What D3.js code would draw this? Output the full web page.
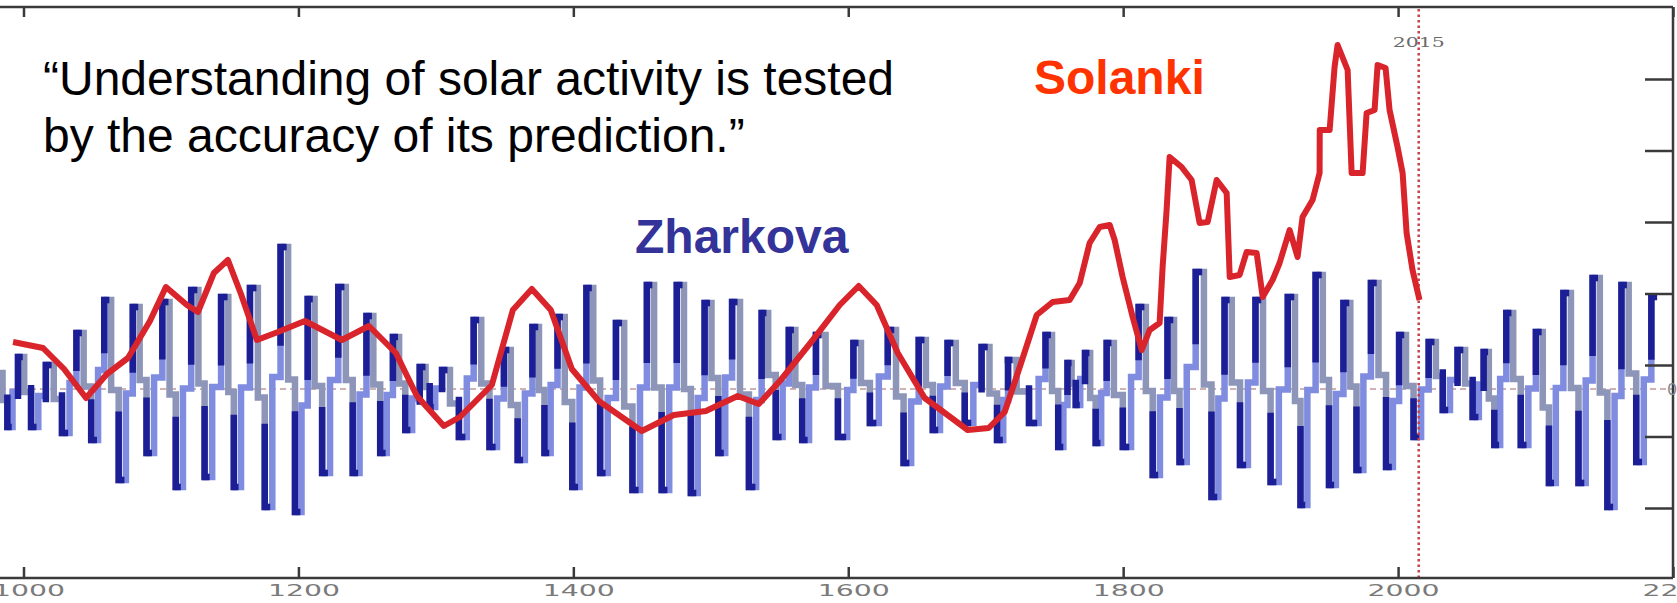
<!DOCTYPE html>
<html>
<head>
<meta charset="utf-8">
<script src="https://cdn.jsdelivr.net/npm/d3@7/dist/d3.min.js"></script>
<style>
  body { margin: 0; background: #fff; }
  svg { display: block; }
</style>
</head>
<body>
<div id="chart"></div>
<script>
const width = 1677
const height = 603

// x axis years and right axis ticks
const axisYears = [1000, 1200, 1400, 1600, 1800, 2000, 2200]
const rightTicks = [0, 10, 20, 30, 40, 50, 60]
const markYear = 2015

// Zharkova summary curve: alternating maxima / minima
const zharkovaYears = [983, 990, 998, 1008, 1019, 1031, 1041, 1052, 1061, 1072,
  1082, 1092, 1104, 1113, 1125, 1134, 1147, 1155, 1168, 1178,
  1190, 1200, 1209, 1220, 1232, 1242, 1252, 1262, 1271, 1280,
  1291, 1297, 1307, 1320, 1330, 1342, 1352, 1362, 1373, 1381,
  1391, 1402, 1412, 1422, 1434, 1446, 1456, 1467, 1478, 1488,
  1498, 1508, 1518, 1531, 1539, 1550, 1559, 1569, 1579, 1597,
  1606, 1619, 1632, 1643, 1654, 1664, 1675, 1688, 1700, 1711,
  1718, 1736, 1746, 1755, 1761, 1767, 1774, 1782, 1790, 1803,
  1814, 1824, 1835, 1843, 1856, 1867, 1876, 1888, 1899, 1910,
  1923, 1931, 1943, 1952, 1963, 1972, 1983, 1994, 2003, 2014,
  2025, 2035, 2046, 2057, 2064, 2072, 2081, 2092, 2103, 2112,
  2123, 2134, 2144, 2155, 2165, 2176, 2187]
const zharkovaValues = [0.16, -0.38, 0.32, -0.38, 0.24, -0.44, 0.56, -0.51, 0.89, -0.91,
  0.82, -0.64, 0.87, -0.98, 0.99, -0.88, 0.92, -0.98, 1.01, -1.18,
  1.42, -1.23, 0.90, -0.84, 1.02, -0.84, 0.73, -0.64, 0.52, -0.41,
  0.22, -0.18, 0.19, -0.48, 0.69, -0.58, 0.39, -0.71, 0.62, -0.64,
  0.72, -0.98, 1.01, -0.84, 0.66, -1.01, 1.04, -1.01, 1.04, -1.04,
  0.86, -0.64, 0.87, -0.98, 0.76, -0.48, 0.59, -0.51, 0.54, -0.48,
  0.46, -0.34, 0.59, -0.74, 0.49, -0.41, 0.46, -0.34, 0.42, -0.51,
  0.29, -0.34, 0.54, -0.58, 0.26, -0.16, 0.36, -0.54, 0.46, -0.58,
  0.82, -0.86, 0.69, -0.73, 1.17, -1.08, 0.89, -0.76, 0.89, -0.93,
  0.92, -1.16, 1.14, -0.96, 0.86, -0.81, 1.06, -0.78, 0.54, -0.48,
  0.47, -0.21, 0.39, -0.28, 0.37, -0.56, 0.76, -0.56, 0.57, -0.94,
  0.96, -0.94, 1.11, -1.18, 1.04, -0.73, 0.92]

// Solanki reconstruction
const solankiYears = [992.4, 1014.2, 1029.5, 1045.5, 1060.7, 1076.0, 1092.0, 1103.6, 1118.9, 1126.9,
  1138.5, 1148.7, 1158.2, 1169.8, 1185.1, 1204.7, 1231.6, 1251.3, 1270.9, 1286.2,
  1305.8, 1317.5, 1340.7, 1356.0, 1369.8, 1383.6, 1398.9, 1418.5, 1449.8, 1473.1,
  1496.4, 1519.6, 1534.9, 1550.9, 1574.2, 1593.8, 1607.6, 1620.7, 1636.0, 1655.6,
  1686.9, 1702.2, 1713.8, 1725.5, 1737.1, 1748.7, 1761.1, 1768.4, 1775.6, 1782.9,
  1790.2, 1793.8, 1799.6, 1806.9, 1813.5, 1819.3, 1826.5, 1828.7, 1831.6, 1833.8,
  1842.5, 1849.8, 1855.6, 1861.5, 1868.0, 1875.3, 1877.5, 1884.7, 1889.8, 1897.1,
  1901.5, 1908.7, 1913.8, 1921.1, 1926.9, 1930.5, 1937.8, 1942.9, 1943.0, 1950.2,
  1953.8, 1956.0, 1963.3, 1966.2, 1974.2, 1977.1, 1982.9, 1985.1, 1990.9, 1993.8,
  1999.6, 2003.3, 2006.2, 2010.5, 2015.6]
const solankiValues = [0.47, 0.41, 0.20, -0.09, 0.15, 0.31, 0.68, 1.02, 0.84, 0.77,
  1.16, 1.29, 0.95, 0.49, 0.57, 0.68, 0.49, 0.63, 0.36, -0.07,
  -0.37, -0.28, 0.04, 0.79, 1.00, 0.79, 0.20, -0.12, -0.42, -0.26,
  -0.22, -0.07, -0.15, 0.09, 0.49, 0.84, 1.03, 0.84, 0.36, -0.09,
  -0.41, -0.39, -0.23, 0.25, 0.74, 0.87, 0.89, 1.06, 1.46, 1.62,
  1.64, 1.49, 1.12, 0.72, 0.39, 0.59, 0.66, 1.22, 1.79, 2.32,
  2.22, 2.09, 1.66, 1.67, 2.09, 1.96, 1.12, 1.14, 1.37, 1.36,
  0.92, 1.09, 1.26, 1.59, 1.32, 1.72, 1.89, 2.16, 2.59, 2.59,
  3.22, 3.44, 3.19, 2.16, 2.16, 2.76, 2.79, 3.24, 3.21, 2.79,
  2.42, 2.16, 1.56, 1.19, 0.89]

const quoteLines = ["\u201CUnderstanding of solar activity is tested", "by the accuracy of its prediction.\u201D"]

const yTop = 7, yBottom = 578, xRight = 1673

const svg = d3.select('#chart')
  .append('svg')
  .attr('width', width)
  .attr('height', height)

const x = d3.scaleLinear().domain([1000, 2200]).range([23.5, xRight])
const y = d3.scaleLinear().domain([-1, 1]).range([489, 289])
const yRight = d3.scaleLinear().domain([0, 60]).range([508, 79])

// zero line
svg.append('line')
  .attr('x1', 0).attr('x2', xRight)
  .attr('y1', y(0)).attr('y2', y(0))
  .attr('stroke', '#a06868')
  .attr('stroke-width', 1.2)
  .attr('stroke-dasharray', '6,4')

// Zharkova curve, drawn as a two-step staircase between extremes
const zh = zharkovaYears.map((d, i) => ({ x: x(d), y: y(zharkovaValues[i]) }))
const halves = d3.range(zh.length - 1).map(i => {
  const a = zh[i], b = zh[i + 1]
  const dx = b.x - a.x, dy = b.y - a.y
  return { a, b, dx, dy, rising: dy < 0 }
})

svg.append('g')
  .selectAll('path')
  .data(halves)
  .join('path')
  .attr('d', h => `M${h.a.x - h.dx / 4},${h.a.y}` +
    `H${h.a.x + h.dx / 4}V${h.a.y + h.dy / 2}` +
    `H${h.a.x + 3 * h.dx / 4}V${h.b.y}H${h.b.x}`)
  .attr('fill', 'none')
  .attr('stroke', h => h.rising ? '#7f8ce0' : '#8d95b8')
  .attr('stroke-width', 6.5)

// darker ends near each maximum / minimum
svg.append('g')
  .selectAll('path')
  .data(halves)
  .join('path')
  .attr('d', h => {
    const f = Math.abs(h.dy) < 80 ? 0.6 : 0.38
    return `M${h.a.x + 3 * h.dx / 4},${h.b.y - f * h.dy}V${h.b.y}H${h.b.x + 2}`
  })
  .attr('fill', 'none')
  .attr('stroke', '#1c1e96')
  .attr('stroke-width', 6.5)

// 2015 marker
svg.append('line')
  .attr('x1', x(markYear)).attr('x2', x(markYear))
  .attr('y1', yTop + 2).attr('y2', yBottom)
  .attr('stroke', '#c8404a')
  .attr('stroke-width', 2.5)
  .attr('stroke-dasharray', '2.5,3')

svg.append('text')
  .attr('x', x(markYear))
  .attr('y', 47)
  .attr('text-anchor', 'middle')
  .attr('textLength', 52)
  .attr('lengthAdjust', 'spacingAndGlyphs')
  .style('font-family', 'DejaVu Serif')
  .style('font-size', '12px')
  .style('fill', '#6a6a6a')
  .text(markYear)

// Solanki curve
const solanki = solankiYears.map((d, i) => ({ year: d, value: solankiValues[i] }))
svg.append('path')
  .datum(solanki)
  .attr('d', d3.line().x(d => x(d.year)).y(d => y(d.value)))
  .attr('fill', 'none')
  .attr('stroke', '#d8242a')
  .attr('stroke-width', 6)
  .attr('stroke-linejoin', 'round')

// frame
const frame = svg.append('g').attr('stroke', '#3a3a3a').attr('stroke-width', 2.5)
frame.append('line').attr('x1', 0).attr('x2', xRight).attr('y1', yTop).attr('y2', yTop)
frame.append('line').attr('x1', 0).attr('x2', xRight).attr('y1', yBottom).attr('y2', yBottom)
frame.append('line').attr('x1', xRight).attr('x2', xRight).attr('y1', yTop).attr('y2', yBottom)

// axes
const topAxis = svg.append('g')
  .attr('transform', `translate(0,${yTop})`)
  .call(d3.axisBottom(x).tickValues(axisYears).tickSize(10).tickFormat(''))
topAxis.select('.domain').remove()

const bottomAxis = svg.append('g')
  .attr('transform', `translate(0,${yBottom})`)
  .call(d3.axisBottom(x).tickValues(axisYears).tickSizeInner(-11).tickSizeOuter(0)
    .tickPadding(7).tickFormat(d3.format('d')))
bottomAxis.select('.domain').remove()
bottomAxis.selectAll('text')
  .attr('dx', 5)
  .attr('textLength', 72)
  .attr('lengthAdjust', 'spacingAndGlyphs')
  .style('font-family', 'DejaVu Sans')
  .style('font-size', '16px')
  .style('fill', '#7a7a7a')

const rightAxis = svg.append('g')
  .attr('transform', `translate(${xRight},0)`)
  .call(d3.axisLeft(yRight).tickValues(rightTicks).tickSize(28).tickFormat(''))
rightAxis.select('.domain').remove()

svg.selectAll('.tick line').attr('stroke', '#3a3a3a').attr('stroke-width', 2.5)

svg.append('text')
  .attr('x', xRight - 6)
  .attr('y', y(0) + 6)
  .style('font-family', 'DejaVu Sans')
  .style('font-size', '16px')
  .style('fill', '#888')
  .text('0')

// labels
const quote = svg.append('text')
  .style('font-family', 'Liberation Sans, Arial, sans-serif')
  .style('font-size', '48px')
  .style('fill', '#000')
quote.selectAll('tspan')
  .data(quoteLines)
  .join('tspan')
  .attr('x', 43)
  .attr('y', (d, i) => 95 + i * 57)
  .text(d => d)

svg.append('text')
  .attr('x', 1034).attr('y', 94)
  .style('font-family', 'Liberation Sans, Arial, sans-serif')
  .style('font-size', '48px')
  .style('font-weight', 'bold')
  .style('fill', '#ff3300')
  .text('Solanki')

svg.append('text')
  .attr('x', 635).attr('y', 253)
  .style('font-family', 'Liberation Sans, Arial, sans-serif')
  .style('font-size', '48px')
  .style('font-weight', 'bold')
  .style('fill', '#333399')
  .text('Zharkova')
</script>
</body>
</html>
